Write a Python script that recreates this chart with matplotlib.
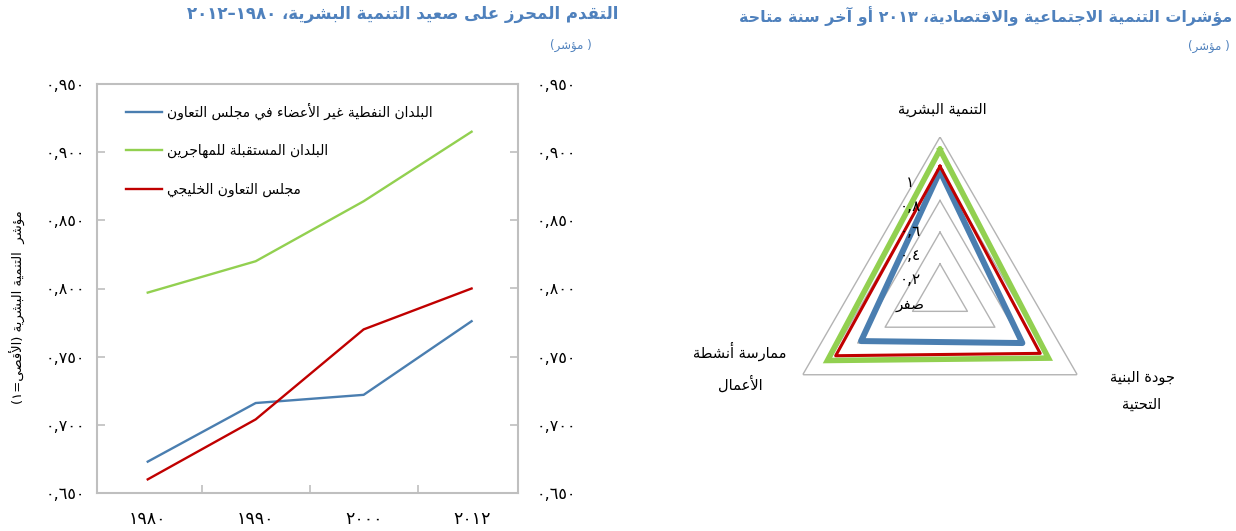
import re
import numpy as np
import matplotlib
matplotlib.use("Agg")
import matplotlib.pyplot as plt

plt.rcParams['font.family'] = ['DejaVu Sans']

# ---- data -------------------------------------------------------------
years = ["١٩٨٠", "١٩٩٠", "٢٠٠٠", "٢٠١٢"]
hdi_nongcc_oil = [0.673, 0.716, 0.722, 0.776]
hdi_migrant_hosts = [0.797, 0.820, 0.864, 0.915]
hdi_gcc = [0.660, 0.704, 0.770, 0.800]
hdi_ticks = [0.65, 0.70, 0.75, 0.80, 0.85, 0.90, 0.95]

radar_axes = ["التنمية البشرية", "جودة البنية\nالتحتية", "ممارسة أنشطة\nالأعمال"]
radar_nongcc_oil = [0.785, 0.60, 0.575]
radar_migrant_hosts = [0.92, 0.79, 0.82]
radar_gcc = [0.815, 0.73, 0.76]
radar_levels = [0.2, 0.4, 0.6, 0.8, 1.0]
radar_level_labels = ["صفر", "٠,٢", "٠,٤", "٠,٦", "٠,٨", "١"]

series_names = ["البلدان النفطية غير الأعضاء في مجلس التعاون",
                "البلدان المستقبلة للمهاجرين",
                "مجلس التعاون الخليجي"]
colors = ["#4a7eb0", "#92d050", "#c00000"]
title_color = "#4f81bd"

# ---- minimal arabic shaping / visual ordering --------------------------
FORMS = {
    'ء': (0xFE80, None, None, None),
    'آ': (0xFE81, 0xFE82, None, None), 'أ': (0xFE83, 0xFE84, None, None),
    'ؤ': (0xFE85, 0xFE86, None, None), 'إ': (0xFE87, 0xFE88, None, None),
    'ئ': (0xFE89, 0xFE8A, 0xFE8B, 0xFE8C), 'ا': (0xFE8D, 0xFE8E, None, None),
    'ب': (0xFE8F, 0xFE90, 0xFE91, 0xFE92), 'ة': (0xFE93, 0xFE94, None, None),
    'ت': (0xFE95, 0xFE96, 0xFE97, 0xFE98), 'ث': (0xFE99, 0xFE9A, 0xFE9B, 0xFE9C),
    'ج': (0xFE9D, 0xFE9E, 0xFE9F, 0xFEA0), 'ح': (0xFEA1, 0xFEA2, 0xFEA3, 0xFEA4),
    'خ': (0xFEA5, 0xFEA6, 0xFEA7, 0xFEA8), 'د': (0xFEA9, 0xFEAA, None, None),
    'ذ': (0xFEAB, 0xFEAC, None, None), 'ر': (0xFEAD, 0xFEAE, None, None),
    'ز': (0xFEAF, 0xFEB0, None, None), 'س': (0xFEB1, 0xFEB2, 0xFEB3, 0xFEB4),
    'ش': (0xFEB5, 0xFEB6, 0xFEB7, 0xFEB8), 'ص': (0xFEB9, 0xFEBA, 0xFEBB, 0xFEBC),
    'ض': (0xFEBD, 0xFEBE, 0xFEBF, 0xFEC0), 'ط': (0xFEC1, 0xFEC2, 0xFEC3, 0xFEC4),
    'ظ': (0xFEC5, 0xFEC6, 0xFEC7, 0xFEC8), 'ع': (0xFEC9, 0xFECA, 0xFECB, 0xFECC),
    'غ': (0xFECD, 0xFECE, 0xFECF, 0xFED0), 'ف': (0xFED1, 0xFED2, 0xFED3, 0xFED4),
    'ق': (0xFED5, 0xFED6, 0xFED7, 0xFED8), 'ك': (0xFED9, 0xFEDA, 0xFEDB, 0xFEDC),
    'ل': (0xFEDD, 0xFEDE, 0xFEDF, 0xFEE0), 'م': (0xFEE1, 0xFEE2, 0xFEE3, 0xFEE4),
    'ن': (0xFEE5, 0xFEE6, 0xFEE7, 0xFEE8), 'ه': (0xFEE9, 0xFEEA, 0xFEEB, 0xFEEC),
    'و': (0xFEED, 0xFEEE, None, None), 'ى': (0xFEEF, 0xFEF0, None, None),
    'ي': (0xFEF1, 0xFEF2, 0xFEF3, 0xFEF4),
}
LAMALEF = {'آ': (0xFEF5, 0xFEF6), 'أ': (0xFEF7, 0xFEF8),
           'إ': (0xFEF9, 0xFEFA), 'ا': (0xFEFB, 0xFEFC)}
MIRROR = {'(': ')', ')': '('}


def _dual(c):
    return c in FORMS and FORMS[c][2] is not None


def _joining(c):
    return c in FORMS and FORMS[c][1] is not None


def shape(s):
    out, i = [], 0
    while i < len(s):
        c = s[i]
        if c not in FORMS:
            out.append(c)
            i += 1
            continue
        jp = i > 0 and _dual(s[i - 1])
        if c == 'ل' and i + 1 < len(s) and s[i + 1] in LAMALEF:
            iso, fin = LAMALEF[s[i + 1]]
            out.append(chr(fin if jp else iso))
            i += 2
            continue
        jn = _dual(c) and i + 1 < len(s) and _joining(s[i + 1])
        iso, fin, ini, med = FORMS[c]
        if jp and jn:
            f = med
        elif jp:
            f = fin or iso
        elif jn:
            f = ini
        else:
            f = iso
        out.append(chr(f))
        i += 1
    return ''.join(out)


def ar(text):
    lines = []
    for line in text.split('\n'):
        toks = re.findall(r'[0-9٠-٩]+(?:[.,٫][0-9٠-٩]+)*|.', shape(line))
        lines.append(''.join(MIRROR.get(t, t) for t in reversed(toks)))
    return '\n'.join(lines)


def ar_num(v):
    s = f"{v:.3f}".replace('.', ',')
    return s.translate(str.maketrans('0123456789', '٠١٢٣٤٥٦٧٨٩'))


# ---- figure -----------------------------------------------------------
W, H = 1236, 531
fig = plt.figure(figsize=(W / 100, H / 100), dpi=100)
fig.patch.set_facecolor('white')

# left: HDI progress lines
ax = fig.add_axes([97 / W, 1 - 493 / H, 421 / W, 409 / H])
x = np.arange(len(years))
for vals, name, col in zip([hdi_nongcc_oil, hdi_migrant_hosts, hdi_gcc],
                           series_names, colors):
    ax.plot(x, vals, color=col, lw=1.7, label=ar(name))

ax.set_xlim(-0.47, len(years) - 0.57)
ax.set_ylim(hdi_ticks[0], hdi_ticks[-1])
ax.set_yticks(hdi_ticks)
ax.set_yticklabels([ar_num(v) for v in hdi_ticks], fontsize=11.5)
ax.set_xticks(x)
ax.set_xticklabels(years, fontsize=12.5)
ax.set_xticks(x[:-1] + 0.5, minor=True)
ax.tick_params(axis='x', which='major', length=0, pad=12)
ax.tick_params(axis='x', which='minor', direction='in', length=6,
               color='#bfbfbf', width=1.2)
ax.tick_params(axis='y', direction='in', length=6, color='#bfbfbf',
               width=1.2, pad=8.5)
for sp in ax.spines.values():
    sp.set_color('#bfbfbf')
    sp.set_linewidth(1.5)

ax2 = ax.twinx()
ax2.set_ylim(ax.get_ylim())
ax2.set_yticks(hdi_ticks)
ax2.set_yticklabels([ar_num(v) for v in hdi_ticks], fontsize=11.5)
ax2.tick_params(axis='y', direction='in', length=6, color='#bfbfbf',
                width=1.2, pad=13.5)
for sp in ax2.spines.values():
    sp.set_visible(False)

ax.legend(loc='upper left', bbox_to_anchor=(0.04, 0.985), frameon=False,
          fontsize=10, handlelength=2.6, handletextpad=0.35,
          labelspacing=1.75)

fig.text(18 / W, 1 - 307 / H, ar("مؤشر  التنمية البشرية (الأقصى=١)"),
         rotation=90, ha='center', va='center', fontsize=9.5)

fig.text(618 / W, 1 - 14 / H,
         ar("التقدم المحرز على صعيد التنمية البشرية، ١٩٨٠–٢٠١٢"),
         ha='right', va='center', fontsize=12, fontweight='bold',
         color=title_color)
fig.text(592 / W, 1 - 45 / H, ar("( مؤشر)"), ha='right', va='center',
         fontsize=8.5, color=title_color)

# right: radar of socio-economic indicators
cx, cy, R = 940, 295.5, 158.5
rax = fig.add_axes([(cx - R) / W, 1 - (cy + R) / H, 2 * R / W, 2 * R / H],
                   projection='polar')
rax.set_theta_offset(np.pi / 2)
rax.set_theta_direction(-1)
theta = np.linspace(0, 2 * np.pi, len(radar_axes), endpoint=False)
theta_c = np.append(theta, theta[0])

for lvl in radar_levels:
    rax.plot(theta_c, [lvl] * len(theta_c), color='#b3b3b3', lw=1.0,
             zorder=1)

radar_styles = [dict(lw=4.3, solid_joinstyle='round'),
                dict(lw=4.0, solid_joinstyle='miter'),
                dict(lw=2.2, solid_joinstyle='round')]
for vals, col, st in zip([radar_nongcc_oil, radar_migrant_hosts, radar_gcc],
                         colors, radar_styles):
    rax.plot(theta_c, vals + vals[:1], color=col, zorder=3, **st)

rax.set_ylim(0, 1)
rax.grid(False)
rax.set_xticks([])
rax.set_yticks([])
rax.spines['polar'].set_visible(False)
rax.patch.set_visible(False)

for i, lab in enumerate(radar_level_labels):
    rax.text(0.405, 0.472 + 0.077 * i, ar(lab), transform=rax.transAxes,
             ha='center', va='center', fontsize=11, zorder=4)

label_pos = [(942, 110), (1142, 391), (740, 367)]
for lab, (px, py) in zip(radar_axes, label_pos):
    fig.text(px / W, 1 - py / H, ar(lab), ha='center', va='center',
             fontsize=10.5, linespacing=2.0)

fig.text(1232 / W, 1 - 16 / H,
         ar("مؤشرات التنمية الاجتماعية والاقتصادية، ٢٠١٣ أو آخر سنة متاحة"),
         ha='right', va='center', fontsize=11.4, fontweight='bold',
         color=title_color)
fig.text(1230 / W, 1 - 46 / H, ar("( مؤشر)"), ha='right', va='center',
         fontsize=8.5, color=title_color)

fig.savefig("out.png", dpi=100, facecolor='white')
